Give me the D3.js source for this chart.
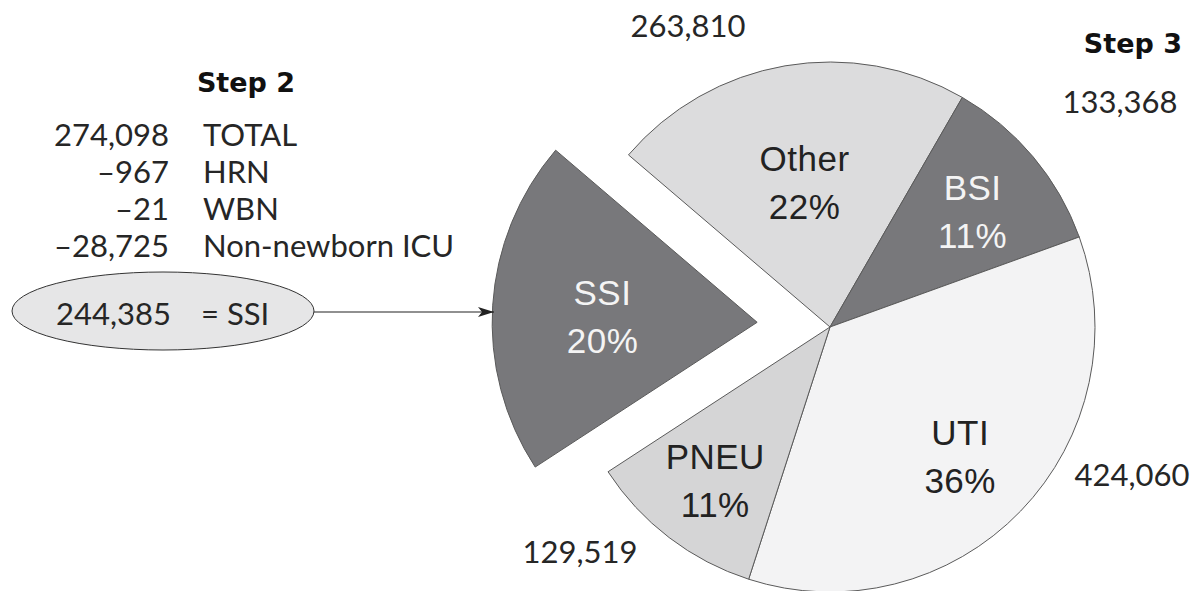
<!DOCTYPE html>
<html>
<head>
<meta charset="utf-8">
<script src="https://cdn.jsdelivr.net/npm/d3@7/dist/d3.min.js"></script>
<style>
  html, body { margin: 0; padding: 0; background: #ffffff; }
  svg { display: block; }
</style>
</head>
<body>
<svg id="chart" width="1194" height="591"></svg>
<script>
// ---- data ----
const categories = ["Other", "BSI", "UTI", "PNEU", "SSI"];
const counts = [263810, 133368, 424060, 129519, 244385];
const percentLabels = ["22%", "11%", "36%", "11%", "20%"];
const explodedCategory = "SSI";

const step2Values = ["274,098", "\u2013967", "\u201321", "\u201328,725"];
const step2Labels = ["TOTAL", "HRN", "WBN", "Non-newborn ICU"];
const step2Result = "244,385";
const step2ResultLabel = "= SSI";

// ---- layout / style ----
const W = 1194, H = 591;
const cx = 830, cy = 327, R = 265;
const explodeDist = 73;
const fills = { Other: "#dcdcdd", BSI: "#78787b", UTI: "#f3f3f4", PNEU: "#d5d5d6", SSI: "#78787b" };
const textFill = { Other: "#222", BSI: "#f4f4f4", UTI: "#222", PNEU: "#222", SSI: "#f4f4f4" };
const innerLabelR = { Other: 150, BSI: 186, UTI: 181, PNEU: 189, SSI: 155 };
const outerLabel = { Other: [-142, -301], BSI: [290, -225], UTI: [302, 148], PNEU: [-250, 225] };
const numFont = "Lato, 'Open Sans', sans-serif";
const numSize = 31;
const numColor = "#262626";
const sliceFont = "'Liberation Sans', Arial, sans-serif";

const svg = d3.select("#chart");
const data = categories.map((c, i) => ({ cat: c, value: counts[i], pct: percentLabels[i] }));

const startA = -49.5 * Math.PI / 180;
const pie = d3.pie().sort(null).value(d => d.value)
  .startAngle(startA).endAngle(startA + 2 * Math.PI);
const arcs = pie(data);
const arc = d3.arc().innerRadius(0).outerRadius(R);

const g = svg.append("g").attr("transform", `translate(${cx},${cy})`);

const slice = g.selectAll("g.slice").data(arcs).join("g")
  .attr("class", "slice")
  .attr("transform", d => {
    if (d.data.cat !== explodedCategory) return null;
    const m = (d.startAngle + d.endAngle) / 2;
    return `translate(${Math.sin(m) * explodeDist},${-Math.cos(m) * explodeDist})`;
  });

slice.append("path")
  .attr("d", arc)
  .attr("fill", d => fills[d.data.cat])
  .attr("stroke", "#5a5a5a")
  .attr("stroke-width", 1);

slice.each(function(d) {
  const m = (d.startAngle + d.endAngle) / 2;
  const r = innerLabelR[d.data.cat];
  const x = Math.sin(m) * r, y = -Math.cos(m) * r;
  const t = d3.select(this).append("text")
    .attr("x", x).attr("y", y)
    .attr("text-anchor", "middle")
    .attr("font-family", sliceFont)
    .attr("font-size", 35)
    .attr("letter-spacing", 0.5)
    .attr("fill", textFill[d.data.cat]);
  t.append("tspan").attr("x", x).attr("dy", "-0.22em").text(d.data.cat);
  t.append("tspan").attr("x", x).attr("dy", "1.37em").text(d.data.pct);
});

// outer value labels
arcs.filter(d => outerLabel[d.data.cat]).forEach(d => {
  const [dx, dy] = outerLabel[d.data.cat];
  g.append("text")
    .attr("x", dx).attr("y", dy)
    .attr("dy", "0.35em")
    .attr("text-anchor", "middle")
    .attr("font-family", numFont)
    .attr("font-size", numSize)
    .attr("fill", numColor)
    .text(d3.format(",")(d.value));
});

// Step titles
svg.append("text").attr("x", 1182).attr("y", 53).attr("text-anchor", "end")
  .attr("font-family", "'DejaVu Sans', sans-serif").attr("font-weight", "bold")
  .attr("font-size", 27).attr("fill", "#111").text("Step 3");
svg.append("text").attr("x", 246).attr("y", 92).attr("text-anchor", "middle")
  .attr("font-family", "'DejaVu Sans', sans-serif").attr("font-weight", "bold")
  .attr("font-size", 27).attr("fill", "#111").text("Step 2");

// Step 2 table
const rowY = d3.scalePoint().domain(d3.range(step2Values.length)).range([146, 257]);
step2Values.forEach((v, i) => {
  svg.append("text").attr("x", 169).attr("y", rowY(i)).attr("text-anchor", "end")
    .attr("font-family", numFont).attr("font-size", numSize).attr("fill", numColor).text(v);
  svg.append("text").attr("x", 203).attr("y", rowY(i))
    .attr("font-family", numFont).attr("font-size", numSize).attr("fill", numColor).text(step2Labels[i]);
});

// ellipse with result
svg.append("ellipse").attr("cx", 163).attr("cy", 311).attr("rx", 151).attr("ry", 39)
  .attr("fill", "#e6e6e7").attr("stroke", "#333").attr("stroke-width", 1);
svg.append("text").attr("x", 171).attr("y", 325).attr("text-anchor", "end")
  .attr("font-family", numFont).attr("font-size", numSize).attr("fill", numColor).text(step2Result);
svg.append("text").attr("x", 201).attr("y", 325)
  .attr("font-family", numFont).attr("font-size", numSize).attr("fill", numColor).text(step2ResultLabel);

// arrow
svg.append("defs").append("marker").attr("id", "arr")
  .attr("viewBox", "0 0 16 10").attr("refX", 16).attr("refY", 5)
  .attr("markerWidth", 16).attr("markerHeight", 10).attr("markerUnits", "userSpaceOnUse")
  .attr("orient", "auto")
  .append("path").attr("d", "M0,0 L16,5 L0,10 L4,5 Z").attr("fill", "#222");
svg.append("line").attr("x1", 314).attr("y1", 312).attr("x2", 494).attr("y2", 312)
  .attr("stroke", "#222").attr("stroke-width", 1.2).attr("marker-end", "url(#arr)");
</script>
</body>
</html>
